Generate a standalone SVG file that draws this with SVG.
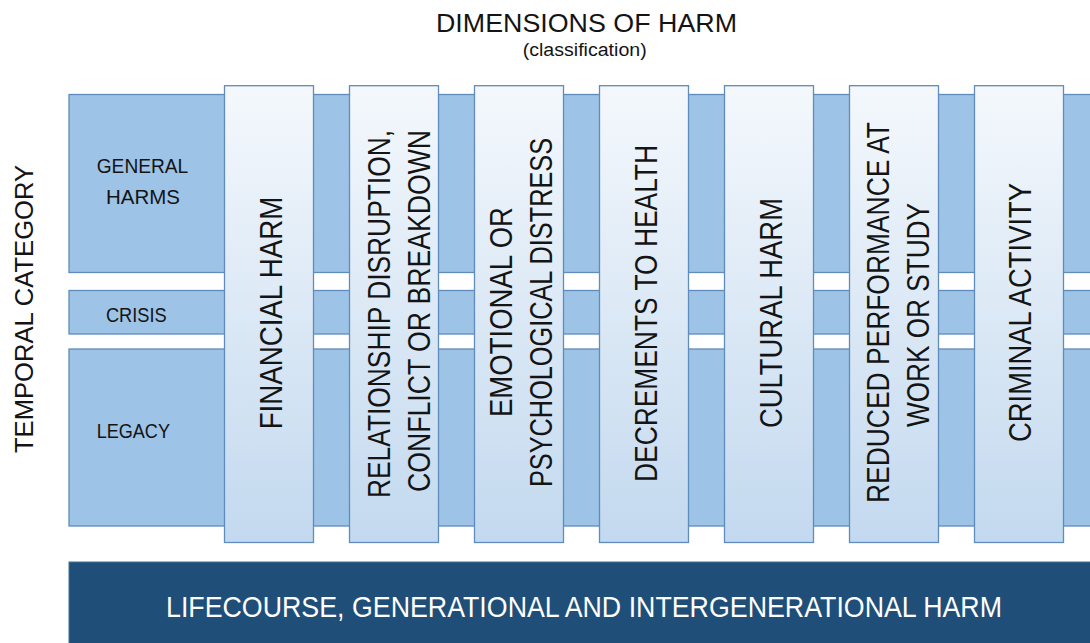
<svg xmlns="http://www.w3.org/2000/svg" width="1090" height="643" viewBox="0 0 1090 643">
  <defs>
    <linearGradient id="colGrad" x1="0" y1="0" x2="0" y2="1">
      <stop offset="0" stop-color="#f4f8fc"/>
      <stop offset="1" stop-color="#c3d9ef"/>
    </linearGradient>
    <style>
      .band { fill: #9dc3e6; stroke: #5f8bbd; stroke-width: 1.3; }
      .col { fill: url(#colGrad); stroke: #5f8bbd; stroke-width: 1.3; }
      .bar { fill: #1f4e79; stroke: #41719c; stroke-width: 1; }
      text { font-family: "Liberation Sans", Arial, sans-serif; fill: #141414; }
      .title { font-size: 26px; }
      .sub { font-size: 18px; }
      .row { font-size: 21px; }
      .axis { font-size: 25px; }
      .dim { font-size: 31px; }
      .barText { font-size: 29px; fill: #ffffff; }
    </style>
  </defs>

  <g id="title">
    <text class="title" x="586.5" y="32" text-anchor="middle" textLength="301" lengthAdjust="spacingAndGlyphs">DIMENSIONS OF HARM</text>
    <text class="sub" x="584.7" y="56" text-anchor="middle" textLength="124" lengthAdjust="spacingAndGlyphs">(classification)</text>
  </g>

  <g id="axis-temporal">
    <text class="axis" transform="translate(33,309) rotate(-90)" text-anchor="middle" textLength="288" lengthAdjust="spacingAndGlyphs">TEMPORAL CATEGORY</text>
  </g>

  <g id="row-general">
    <rect class="band" x="69" y="94.5" width="1030" height="178"/>
    <text class="row" x="142.5" y="173" text-anchor="middle" textLength="91.6" lengthAdjust="spacingAndGlyphs">GENERAL</text>
    <text class="row" x="143" y="204" text-anchor="middle" textLength="74" lengthAdjust="spacingAndGlyphs">HARMS</text>
  </g>
  <g id="row-crisis">
    <rect class="band" x="69" y="290.5" width="1030" height="43.5"/>
    <text class="row" x="136.3" y="321.7" text-anchor="middle" textLength="60.7" lengthAdjust="spacingAndGlyphs">CRISIS</text>
  </g>
  <g id="row-legacy">
    <rect class="band" x="69" y="349" width="1030" height="177"/>
    <text class="row" x="133.3" y="438" text-anchor="middle" textLength="73.3" lengthAdjust="spacingAndGlyphs">LEGACY</text>
  </g>

  <g id="col-financial">
    <rect class="col" x="224.5" y="85.7" width="89" height="456.8"/>
    <text class="dim" transform="translate(281.5,313) rotate(-90)" text-anchor="middle" textLength="232.6" lengthAdjust="spacingAndGlyphs">FINANCIAL HARM</text>
  </g>
  <g id="col-relationship">
    <rect class="col" x="349.5" y="85.7" width="89" height="456.8"/>
    <text class="dim" transform="translate(389.5,314) rotate(-90)" text-anchor="middle" textLength="368" lengthAdjust="spacingAndGlyphs">RELATIONSHIP DISRUPTION,</text>
    <text class="dim" transform="translate(429.5,311) rotate(-90)" text-anchor="middle" textLength="362" lengthAdjust="spacingAndGlyphs">CONFLICT OR BREAKDOWN</text>
  </g>
  <g id="col-emotional">
    <rect class="col" x="474.5" y="85.7" width="89" height="456.8"/>
    <text class="dim" transform="translate(512,312) rotate(-90)" text-anchor="middle" textLength="210" lengthAdjust="spacingAndGlyphs">EMOTIONAL OR</text>
    <text class="dim" transform="translate(552,312.5) rotate(-90)" text-anchor="middle" textLength="349" lengthAdjust="spacingAndGlyphs">PSYCHOLOGICAL DISTRESS</text>
  </g>
  <g id="col-health">
    <rect class="col" x="599.5" y="85.7" width="89" height="456.8"/>
    <text class="dim" transform="translate(657,313.5) rotate(-90)" text-anchor="middle" textLength="337" lengthAdjust="spacingAndGlyphs">DECREMENTS TO HEALTH</text>
  </g>
  <g id="col-cultural">
    <rect class="col" x="724.5" y="85.7" width="89" height="456.8"/>
    <text class="dim" transform="translate(781.5,313) rotate(-90)" text-anchor="middle" textLength="230" lengthAdjust="spacingAndGlyphs">CULTURAL HARM</text>
  </g>
  <g id="col-performance">
    <rect class="col" x="849.5" y="85.7" width="89" height="456.8"/>
    <text class="dim" transform="translate(889,312.5) rotate(-90)" text-anchor="middle" textLength="381" lengthAdjust="spacingAndGlyphs">REDUCED PERFORMANCE AT</text>
    <text class="dim" transform="translate(929,315) rotate(-90)" text-anchor="middle" textLength="224" lengthAdjust="spacingAndGlyphs">WORK OR STUDY</text>
  </g>
  <g id="col-criminal">
    <rect class="col" x="974.5" y="85.7" width="89" height="456.8"/>
    <text class="dim" transform="translate(1031,312.5) rotate(-90)" text-anchor="middle" textLength="259" lengthAdjust="spacingAndGlyphs">CRIMINAL ACTIVITY</text>
  </g>

  <g id="lifecourse">
    <rect class="bar" x="69" y="562" width="1030" height="90"/>
    <text class="barText" x="584" y="617" text-anchor="middle" textLength="836" lengthAdjust="spacingAndGlyphs">LIFECOURSE, GENERATIONAL AND INTERGENERATIONAL HARM</text>
  </g>

  <g id="connectors"/>
</svg>
